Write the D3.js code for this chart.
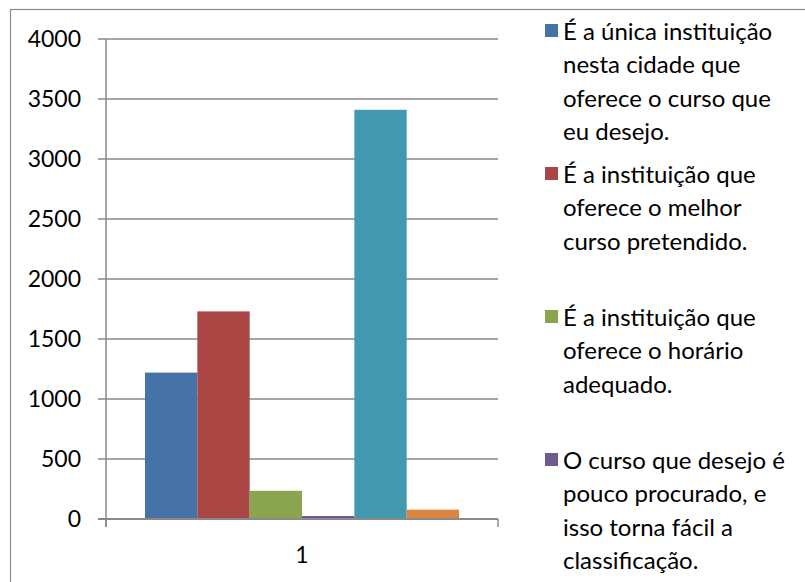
<!DOCTYPE html>
<html>
<head>
<meta charset="utf-8">
<script src="https://cdn.jsdelivr.net/npm/d3@7"></script>
<style>
  html, body { margin: 0; padding: 0; background: #fff; }
  svg { display: block; }
  text { font-family: Lato, "Open Sans", sans-serif; fill: #000; }
</style>
</head>
<body>
<svg id="chart" width="805" height="582"></svg>
<script>
// ---- data ----
const categories = ["1"];
const seriesValues = [1220, 1730, 235, 25, 3410, 78];
const seriesColors = ["#4572A7", "#AA4643", "#89A54E", "#71588F", "#4198AF", "#DB843D"];
const legendLabels = [
  ["É a única instituição", "nesta cidade que", "oferece o curso que", "eu desejo."],
  ["É a instituição que", "oferece o melhor", "curso pretendido."],
  ["É a instituição que", "oferece o horário", "adequado."],
  ["O curso que desejo é", "pouco procurado, e", "isso torna fácil a", "classificação."]
];
const yTicks = [0, 500, 1000, 1500, 2000, 2500, 3000, 3500, 4000];

// ---- layout ----
const svg = d3.select("#chart");
const plot = { left: 106, right: 498, top: 39, bottom: 519 };
const gridColor = "#898989";
const fontFam = "Lato, 'Open Sans', sans-serif";

// chart border (extends beyond the right and bottom edges)
svg.append("rect")
  .attr("x", 10.5).attr("y", 9.5)
  .attr("width", 900).attr("height", 700)
  .attr("fill", "none").attr("stroke", "#8c8c8c").attr("stroke-width", 1.2);

const y = d3.scaleLinear().domain([0, 4000]).range([plot.bottom, plot.top]);
const x0 = d3.scaleBand().domain(categories).range([plot.left, plot.right]).paddingInner(0).paddingOuter(0);
const x1 = d3.scaleBand().domain(d3.range(seriesValues.length))
  .range([x0("1") + 39, x0("1") + x0.bandwidth() - 39]);

// gridlines
svg.append("g").selectAll("line").data(yTicks).join("line")
  .attr("x1", plot.left - 8).attr("x2", plot.right)
  .attr("y1", d => y(d)).attr("y2", d => y(d))
  .attr("stroke", gridColor).attr("stroke-width", 1.5);

// bars
svg.append("g").selectAll("rect").data(seriesValues).join("rect")
  .attr("x", (d, i) => x1(i))
  .attr("width", x1.bandwidth())
  .attr("y", d => y(d))
  .attr("height", d => y(0) - y(d))
  .attr("fill", (d, i) => seriesColors[i]);

// y axis
const yAxis = d3.axisLeft(y).tickValues(yTicks).tickFormat(d3.format("d")).tickSize(8).tickPadding(17);
const gy = svg.append("g").attr("transform", `translate(${plot.left},0)`).call(yAxis);
gy.select(".domain").remove();
gy.selectAll(".tick line").remove();
gy.selectAll(".tick text").attr("font-size", 23).attr("font-family", fontFam).attr("fill", "#000");
svg.append("line")
  .attr("x1", plot.left).attr("x2", plot.left)
  .attr("y1", plot.top).attr("y2", plot.bottom + 8)
  .attr("stroke", gridColor).attr("stroke-width", 1.5);

// x axis
const xAxis = d3.axisBottom(x0).tickSize(0).tickPadding(28);
const gx = svg.append("g").attr("transform", `translate(0,${plot.bottom})`).call(xAxis);
gx.select(".domain").remove();
gx.selectAll(".tick text").attr("font-size", 23).attr("font-family", fontFam).attr("fill", "#000");
svg.append("line")
  .attr("x1", plot.left - 8).attr("x2", plot.right)
  .attr("y1", plot.bottom).attr("y2", plot.bottom)
  .attr("stroke", gridColor).attr("stroke-width", 1.8);
[plot.left, plot.right].forEach(xx => {
  svg.append("line")
    .attr("x1", xx).attr("x2", xx)
    .attr("y1", plot.bottom).attr("y2", plot.bottom + 8)
    .attr("stroke", gridColor).attr("stroke-width", 1.5);
});

// legend
const legend = svg.append("g");
const slot = 143, lineH = 33.3, legendTop = 30;
legendLabels.forEach((lines, i) => {
  const gy0 = legendTop + i * slot;
  legend.append("rect")
    .attr("x", 545).attr("y", gy0 - 6)
    .attr("width", 13).attr("height", 13)
    .attr("fill", seriesColors[i]);
  const t = legend.append("text")
    .attr("x", 563).attr("y", gy0)
    .attr("font-size", 24)
    .attr("dominant-baseline", "central");
  lines.forEach((ln, j) => {
    t.append("tspan").attr("x", 563).attr("y", gy0 + j * lineH).text(ln);
  });
});
</script>
</body>
</html>
